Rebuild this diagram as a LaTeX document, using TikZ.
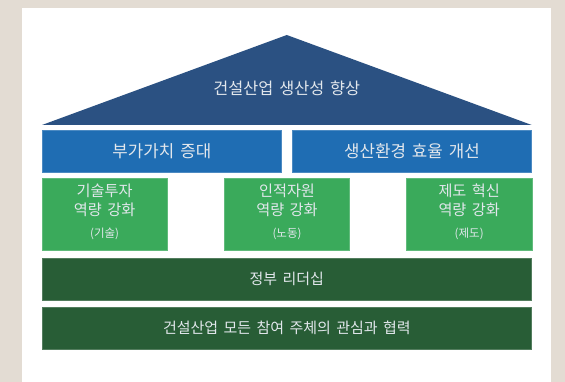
\documentclass[tikz,border=0pt]{standalone}
\usepackage{fontspec}
\setmainfont[WordSpace=1.6]{Noto Sans CJK KR}
\definecolor{bgbeige}{HTML}{E3DCD3}
\definecolor{roofblue}{HTML}{2B5182}
\definecolor{midblue}{HTML}{1F6DB3}
\definecolor{leafgreen}{HTML}{3AAA5B}
\definecolor{darkgreen}{HTML}{285D36}
\definecolor{softtext}{HTML}{E2E7EC}
\tikzset{
  box/.style={draw=#1!80!white, line width=0.6pt, fill=#1, inner sep=0pt, anchor=center},
  bluebox/.style={box=midblue, minimum width=239.5pt, minimum height=41.6pt},
  greenbox/.style={box=leafgreen, minimum width=125.3pt, minimum height=71.7pt},
  basebox/.style={box=darkgreen, minimum width=489.7pt, minimum height=41.8pt},
  txt/.style={text=softtext, inner sep=0pt, font=\fontsize{#1}{#1}\selectfont},
  txt/.default=15.5
}
\begin{document}
\begin{tikzpicture}[x=1pt,y=-1pt]
\useasboundingbox (0,0) rectangle (565,382);
\fill[bgbeige] (0,0) rectangle (565,382);
\fill[white] (22,8) rectangle (551,382);
% roof
\coordinate (apex) at (286.8,35);
\coordinate (bl) at (42,125);
\coordinate (br) at (531.7,125);
\fill[roofblue] (bl) -- (apex) -- (br) -- cycle;
\node[txt=16.3] (roof) at (286.8,88.5) {건설산업 생산성 향상};
% blue row
\node[bluebox] (v1) at (161.85,151.5) {};
\node[bluebox] (v2) at (412,151.5) {};
\node[txt=16.8] (v1t) at (v1.center) {부가가치 증대};
\node[txt=16.8] (v2t) at (v2.center) {생산환경 효율 개선};
% green pillars
\node[greenbox] (g1) at (104.65,214.15) {};
\node[greenbox] (g2) at (287,214.15) {};
\node[greenbox] (g3) at (469.2,214.15) {};
\foreach \g/\a/\b in {g1/기술투자/기술, g2/인적자원/노동, g3/제도 혁신/제도}{
  \node[txt=15.2] (\g a) at ([yshift=23pt]\g.center) {\a};
  \node[txt=15.2] (\g b) at ([yshift=4.5pt]\g.center) {역량 강화};
  \node[txt=11.5] (\g c) at ([yshift=-20pt]\g.center) {(\b)};
}
% base rows
\node[basebox] (d1) at (286.85,279.15) {};
\node[basebox] (d2) at (286.85,328.3) {};
\node[txt=15] (d1t) at (d1.center) {정부 리더십};
\node[txt=15] (d2t) at (d2.center) {건설산업 모든 참여 주체의 관심과 협력};
\end{tikzpicture}
\end{document}
